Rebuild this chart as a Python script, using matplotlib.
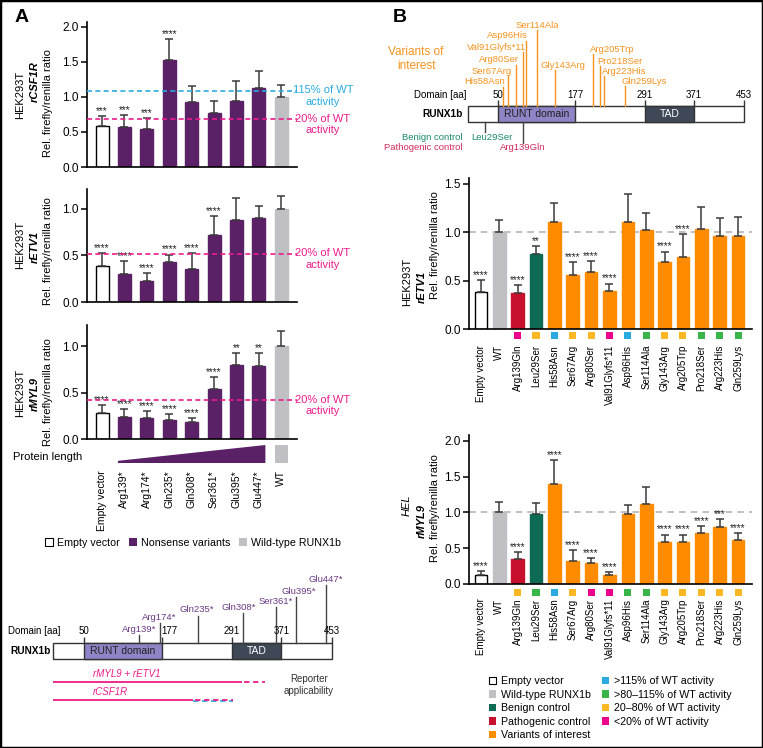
import numpy as np
import matplotlib.pyplot as plt
from matplotlib.patches import Rectangle, Polygon, Patch
import matplotlib.transforms as mtransforms

plt.rcParams['font.family'] = ['Liberation Sans', 'DejaVu Sans']
plt.rcParams['font.size'] = 8

W, H = 763, 748

# colours
purple = '#5a2167'
wt_gray = '#bfbfc4'
teal = '#0d6a55'
red = '#c8102e'
orange = '#ff8c00'
cls_col = {'blue': '#29abe2', 'green': '#39b54a', 'yellow': '#fbb824', 'pink': '#ec008c'}
line_pink = '#ec1c8c'
line_blue = '#29abe2'
runt_col = '#8e84c6'
tad_col = '#3e4857'
mut_purple = '#6b3a86'
var_orange = '#f7931e'

# ---------------- panel A data ----------------
a_cats = ['Empty vector', 'Arg139*', 'Arg174*', 'Gln235*', 'Gln308*',
          'Ser361*', 'Glu395*', 'Glu447*', 'WT']
a_csf1r = [0.58, 0.57, 0.54, 1.53, 0.93, 0.77, 0.94, 1.13, 1.00]
a_csf1r_sd = [0.15, 0.17, 0.16, 0.30, 0.22, 0.17, 0.29, 0.24, 0.17]
a_csf1r_sig = ['***', '***', '***', '****', '', '', '', '', '']
a_etv1 = [0.39, 0.30, 0.23, 0.43, 0.36, 0.72, 0.88, 0.90, 1.00]
a_etv1_sd = [0.14, 0.14, 0.08, 0.08, 0.17, 0.20, 0.24, 0.13, 0.14]
a_etv1_sig = ['****'] * 6 + ['', '', '']
a_myl9 = [0.28, 0.24, 0.23, 0.21, 0.18, 0.54, 0.80, 0.79, 1.00]
a_myl9_sd = [0.09, 0.08, 0.07, 0.06, 0.05, 0.13, 0.13, 0.14, 0.17]
a_myl9_sig = ['****'] * 6 + ['**', '**', '']
a_csf1r_lines = [1.09, 0.68]
a_etv1_lines = [0.52]
a_myl9_lines = [0.42]

# RUNX1b domains (aa)
dom_ticks = [50, 177, 291, 371, 453]
runt = (50, 177)
tad = (291, 371)
prot_len = 453
a_mut_names = ['Arg139*', 'Arg174*', 'Gln235*', 'Gln308*', 'Ser361*', 'Glu395*', 'Glu447*']
a_mut_pos = [139, 174, 235, 308, 362, 395, 444]
rep_names = ['rMYL9 + rETV1', 'rCSF1R']
rep_solid_end = [307, 227]
rep_dash_end = [344, 292]

# ---------------- panel B data ----------------
b_cats = ['Empty vector', 'WT', 'Arg139Gln', 'Leu29Ser', 'His58Asn', 'Ser67Arg',
          'Arg80Ser', 'Val91Glyfs*11', 'Asp96His', 'Ser114Ala', 'Gly143Arg',
          'Arg205Trp', 'Pro218Ser', 'Arg223His', 'Gln259Lys']
b_etv1 = [0.38, 1.00, 0.37, 0.77, 1.11, 0.56, 0.59, 0.39, 1.11, 1.02, 0.69, 0.74, 1.03, 0.96, 0.96]
b_etv1_sd = [0.13, 0.13, 0.08, 0.09, 0.19, 0.13, 0.11, 0.08, 0.28, 0.18, 0.11, 0.24, 0.23, 0.19, 0.20]
b_etv1_sig = ['****', '', '****', '**', '', '****', '****', '****', '', '', '****', '****', '', '', '']
b_etv1_cls = [None, None, 'pink', 'yellow', 'blue', 'yellow', 'yellow', 'pink', 'blue',
              'green', 'yellow', 'yellow', 'green', 'green', 'green']
b_myl9 = [0.13, 1.00, 0.35, 0.98, 1.40, 0.32, 0.30, 0.13, 0.98, 1.12, 0.58, 0.59, 0.71, 0.80, 0.62]
b_myl9_sd = [0.05, 0.14, 0.09, 0.15, 0.33, 0.16, 0.06, 0.04, 0.12, 0.23, 0.11, 0.10, 0.10, 0.11, 0.09]
b_myl9_sig = ['****', '', '****', '', '****', '****', '****', '****', '', '', '****', '****', '****', '***', '****']
b_myl9_cls = [None, None, 'yellow', 'green', 'blue', 'yellow', 'pink', 'pink', 'green',
              'green', 'yellow', 'yellow', 'yellow', 'yellow', 'yellow']

b_var_names = ['His58Asn', 'Ser67Arg', 'Arg80Ser', 'Val91Glyfs*11', 'Asp96His', 'Ser114Ala',
               'Gly143Arg', 'Arg205Trp', 'Pro218Ser', 'Arg223His', 'Gln259Lys']
b_var_pos = [58, 67, 80, 91, 96, 114, 143, 205, 218, 223, 259]
b_ctrl_names = ['Leu29Ser', 'Arg139Gln']
b_ctrl_pos = [29, 91]   # where the figure draws the stems

fig = plt.figure(figsize=(W / 100, H / 100), dpi=100)


def box(l, t, r, b):
    return [l / W, 1 - b / H, (r - l) / W, (b - t) / H]


def ftext(px, py, s, **kw):
    fig.text(px / W, 1 - py / H, s, **kw)


def style(ax, ymax, yticks, xlim):
    ax.set_xlim(*xlim)
    ax.set_ylim(0, ymax)
    ax.set_yticks(yticks)
    ax.set_yticklabels(['%.1f' % t for t in yticks])
    for s in ['top', 'right']:
        ax.spines[s].set_visible(False)
    for s in ['left', 'bottom']:
        ax.spines[s].set_linewidth(1.2)
    ax.tick_params(axis='y', direction='out', length=4, width=1.1, labelsize=8.5, pad=2)
    ax.tick_params(axis='x', length=0)
    ax.patch.set_alpha(0)


def bars(ax, vals, sd, sig, colors, width):
    x = np.arange(len(vals))
    edges = ['black' if c == 'white' else c for c in colors]
    ax.bar(x, vals, width=width, color=colors, edgecolor=edges, linewidth=1, zorder=2)
    ax.errorbar(x, vals, yerr=[np.zeros(len(vals)), sd], fmt='none', ecolor='#3a3a3a',
                elinewidth=1.1, capsize=3, capthick=1.1, zorder=3)
    for xi, v, s, t in zip(x, vals, sd, sig):
        if t:
            ax.text(xi, v + s, t, ha='center', va='bottom', fontsize=7.3, zorder=4,
                    color='#222222')


# ================= panel A charts =================
a_colors = ['white'] + [purple] * 7 + [wt_gray]
a_xlim = (-0.67, 8.7)
a_w = 0.58
axA1 = fig.add_axes(box(87, 22, 297, 167))
axA2 = fig.add_axes(box(87, 189, 297, 302))
axA3 = fig.add_axes(box(87, 325, 297, 439))
for ax, vals, sd, sig, ymax, yt in [
        (axA1, a_csf1r, a_csf1r_sd, a_csf1r_sig, 2.07, [0, 0.5, 1.0, 1.5, 2.0]),
        (axA2, a_etv1, a_etv1_sd, a_etv1_sig, 1.215, [0, 0.5, 1.0]),
        (axA3, a_myl9, a_myl9_sd, a_myl9_sig, 1.23, [0, 0.5, 1.0])]:
    bars(ax, vals, sd, sig, a_colors, a_w)
    style(ax, ymax, yt, a_xlim)
    ax.set_xticks([])


def thr(ax, yv, label, col):
    ax.axhline(yv, color=col, lw=1.2, dashes=(3, 2), zorder=5)
    ax.annotate(label, xy=(1.124, yv), xycoords=('axes fraction', 'data'),
                xytext=(0, 4), textcoords='offset points', ha='center', va='top',
                color=col, fontsize=8, annotation_clip=False)


thr(axA1, a_csf1r_lines[0], '115% of WT\nactivity', line_blue)
thr(axA1, a_csf1r_lines[1], '20% of WT\nactivity', line_pink)
thr(axA2, a_etv1_lines[0], '20% of WT\nactivity', line_pink)
thr(axA3, a_myl9_lines[0], '20% of WT\nactivity', line_pink)

# y labels panel A
ftext(20, 95, 'HEK293T', rotation=90, ha='center', va='center', fontsize=8)
ftext(35, 82, 'rCSF1R', rotation=90, ha='center', va='center', fontsize=8,
      fontweight='bold', fontstyle='italic')
ftext(48, 103, 'Rel. firefly/renilla ratio', rotation=90, ha='center', va='center', fontsize=8)
ftext(20, 245, 'HEK293T', rotation=90, ha='center', va='center', fontsize=8)
ftext(35, 247, 'rETV1', rotation=90, ha='center', va='center', fontsize=8,
      fontweight='bold', fontstyle='italic')
ftext(48, 251, 'Rel. firefly/renilla ratio', rotation=90, ha='center', va='center', fontsize=8)
ftext(20, 393, 'HEK293T', rotation=90, ha='center', va='center', fontsize=8)
ftext(35, 394, 'rMYL9', rotation=90, ha='center', va='center', fontsize=8,
      fontweight='bold', fontstyle='italic')
ftext(48, 392, 'Rel. firefly/renilla ratio', rotation=90, ha='center', va='center', fontsize=8)

# protein length wedge + category labels
axP = fig.add_axes(box(87, 445, 297, 463))
axP.set_xlim(*a_xlim)
axP.set_ylim(0, 1)
for s in axP.spines.values():
    s.set_visible(False)
axP.set_yticks([])
axP.patch.set_alpha(0)
axP.add_patch(Polygon([(1 - a_w / 2, 0), (7 + a_w / 2, 0), (7 + a_w / 2, 1), (1 - a_w / 2, 0.12)],
                      closed=True, facecolor=purple, edgecolor='none'))
axP.add_patch(Rectangle((8 - a_w / 2, 0), a_w, 1, facecolor=wt_gray, edgecolor='none'))
axP.set_xticks(np.arange(len(a_cats)))
axP.set_xticklabels(a_cats, rotation=90, fontsize=7.5)
axP.tick_params(axis='x', length=0, pad=5)
ftext(13, 457, 'Protein length', ha='left', va='center', fontsize=8)

fig.legend(handles=[Patch(facecolor='white', edgecolor='black', linewidth=0.8),
                    Patch(facecolor=purple), Patch(facecolor=wt_gray)],
           labels=['Empty vector', 'Nonsense variants', 'Wild-type RUNX1b'],
           loc='center', bbox_to_anchor=(193 / W, 1 - 543 / H), ncol=3, frameon=False,
           fontsize=7.7, handlelength=0.75, handleheight=0.75, handletextpad=0.4,
           columnspacing=0.8, borderpad=0, borderaxespad=0)

# ================= panel A domain diagram =================
sA = 0.615
oA = 53.2
axD = fig.add_axes(box(0, 565, 390, 720))
axD.set_xlim((0 - oA) / sA, (390 - oA) / sA)
axD.set_ylim(720, 565)
axD.axis('off')


def domain(ax, ytop, h):
    ax.add_patch(Rectangle((0, ytop), prot_len, h, facecolor='white', edgecolor='#333333', lw=1))
    ax.add_patch(Rectangle((runt[0], ytop), runt[1] - runt[0], h, facecolor=runt_col,
                           edgecolor='#333333', lw=1))
    ax.add_patch(Rectangle((tad[0], ytop), tad[1] - tad[0], h, facecolor=tad_col,
                           edgecolor='#333333', lw=1))
    ax.text(sum(runt) / 2, ytop + h / 2, 'RUNT domain', ha='center', va='center', fontsize=7.5,
            color='#222222')
    ax.text(sum(tad) / 2, ytop + h / 2, 'TAD', ha='center', va='center', fontsize=7.5,
            color='white')
    ax.vlines(dom_ticks, ytop - 6, ytop, color='#333333', lw=1)


domain(axD, 643, 16)
for t in dom_ticks:
    axD.text(t + (12 if t == 177 else 0), 631, str(t), ha='center', va='center', fontsize=7)
axD.text((8 - oA) / sA, 631, 'Domain [aa]', ha='left', va='center', fontsize=7)
axD.text((51 - oA) / sA, 651, 'RUNX1b', ha='right', va='center', fontsize=7.3, fontweight='bold')
a_lab_x = [139, 173, 234, 302, 361.5, 399, 443.5]
a_lab_y = [629, 617, 610, 607, 601, 591, 579]
for nm, p, lx, ly in zip(a_mut_names, a_mut_pos, a_lab_x, a_lab_y):
    axD.plot([p, p], [643, ly + 6], color='#444444', lw=1)
    axD.text(lx, ly, nm, ha='center', va='center', fontsize=6.8, color=mut_purple)
rep_y = [682, 700]
for nm, se, de, y in zip(rep_names, rep_solid_end, rep_dash_end, rep_y):
    axD.plot([0, se], [y, y], color=line_pink, lw=1.3, solid_capstyle='butt')
    if nm == 'rCSF1R':
        axD.plot([se, de], [y + 1.2, y + 1.2], color=line_blue, lw=1.3, dashes=(3, 2))
        axD.plot([se + 3, de], [y, y], color=line_pink, lw=1.3, dashes=(3, 2))
    else:
        axD.plot([se + 3, de], [y, y], color=line_pink, lw=1.3, dashes=(3, 2))
    axD.text((93 - oA) / sA, y - 8, nm, ha='left', va='center', fontsize=7,
             fontstyle='italic', color=line_pink)
axD.text((309 - oA) / sA, 685, 'Reporter\napplicability', ha='center', va='center',
         fontsize=7, color='#333333', linespacing=1.3)

# ================= panel B domain diagram =================
sB = 0.61
oB = 467.5
axE = fig.add_axes(box(390, 0, 763, 160))
axE.set_xlim((390 - oB) / sB, (763 - oB) / sB)
axE.set_ylim(160, 0)
axE.axis('off')
domain(axE, 106, 16)
for t in dom_ticks:
    axE.text(t, 95, str(t), ha='center', va='center', fontsize=7)
axE.text((466 - oB) / sB, 95, 'Domain [aa]', ha='right', va='center', fontsize=7)
axE.text((463 - oB) / sB, 114, 'RUNX1b', ha='right', va='center', fontsize=7.3, fontweight='bold')
b_lab_x = [28, 39, 52, 47.5, 66, 114, 156.5, 237, 249, 256.5, 290]
b_lab_y = [82, 71, 60, 47, 36, 25, 65, 49, 61, 71, 81]
for nm, p, lx, ly in zip(b_var_names, b_var_pos, b_lab_x, b_lab_y):
    axE.plot([p, p], [106, ly + 5], color=var_orange, lw=1)
    axE.text(lx, ly, nm, ha='center', va='center', fontsize=6.8, color=var_orange)
axE.text((416 - oB) / sB, 59, 'Variants of\ninterest', ha='center', va='center', fontsize=8.5,
         color=var_orange, linespacing=1.2)
ctrl_cols = ['#1b8a6d', '#d42a5b']
ctrl_y = [137, 148]
ctrl_lab_x = [40, 90]
for nm, p, lx, y, c, g in zip(b_ctrl_names, b_ctrl_pos, ctrl_lab_x, ctrl_y, ctrl_cols,
                              ['Benign control', 'Pathogenic control']):
    axE.plot([p, p], [122, y - 5], color='#444444', lw=1)
    axE.text(lx, y, nm, ha='center', va='center', fontsize=6.8, color=c)
    axE.text((463 - oB) / sB, y, g, ha='right', va='center', fontsize=6.8, color=c)

# ================= panel B charts =================
b_colors = ['white', wt_gray, red, teal] + [orange] * 11
b_xlim = (-0.65, 14.76)
b_w = 0.69
axB1 = fig.add_axes(box(469, 178, 752, 329))
axB2 = fig.add_axes(box(469, 435, 752, 584))
for ax, vals, sd, sig, cls, ymax, yt, sqy, pad in [
        (axB1, b_etv1, b_etv1_sd, b_etv1_sig, b_etv1_cls, 1.56, [0, 0.5, 1.0, 1.5], -0.046, 11.5),
        (axB2, b_myl9, b_myl9_sd, b_myl9_sig, b_myl9_cls, 2.08, [0, 0.5, 1.0, 1.5, 2.0], -0.054, 10.5)]:
    ax.axhline(1.0, color='#b5b5b5', lw=1.2, dashes=(4, 3), zorder=1)
    bars(ax, vals, sd, sig, b_colors, b_w)
    style(ax, ymax, yt, b_xlim)
    ax.set_xticks(np.arange(len(b_cats)))
    ax.set_xticklabels(b_cats, rotation=90, fontsize=7)
    ax.tick_params(axis='x', length=0, pad=pad)
    trans = mtransforms.blended_transform_factory(ax.transData, ax.transAxes)
    xs = [i for i, c in enumerate(cls) if c]
    ax.scatter(xs, [sqy] * len(xs), marker='s', s=26, c=[cls_col[cls[i]] for i in xs],
               transform=trans, clip_on=False, linewidths=0)

ftext(407, 282, 'HEK293T', rotation=90, ha='center', va='center', fontsize=8)
ftext(422, 287, 'rETV1', rotation=90, ha='center', va='center', fontsize=8,
      fontweight='bold', fontstyle='italic')
ftext(435, 245, 'Rel. firefly/renilla ratio', rotation=90, ha='center', va='center', fontsize=8)
ftext(407, 505, 'HEL', rotation=90, ha='center', va='center', fontsize=8, fontstyle='italic')
ftext(422, 521, 'rMYL9', rotation=90, ha='center', va='center', fontsize=8,
      fontweight='bold', fontstyle='italic')
ftext(435, 508, 'Rel. firefly/renilla ratio', rotation=90, ha='center', va='center', fontsize=8)

leg_kw = dict(loc='upper left', frameon=False, fontsize=7.7, handlelength=0.7, handleheight=0.7,
              handletextpad=0.4, labelspacing=0.33, borderpad=0, borderaxespad=0)
fig.legend(handles=[Patch(facecolor='white', edgecolor='black', linewidth=0.8),
                    Patch(facecolor=wt_gray), Patch(facecolor=teal), Patch(facecolor=red),
                    Patch(facecolor=orange)],
           labels=['Empty vector', 'Wild-type RUNX1b', 'Benign control', 'Pathogenic control',
                   'Variants of interest'],
           bbox_to_anchor=(489 / W, 1 - 676 / H), **leg_kw)
fig.legend(handles=[Patch(facecolor=cls_col[k]) for k in ['blue', 'green', 'yellow', 'pink']],
           labels=['>115% of WT activity', '>80\u2013115% of WT activity',
                   '20\u201380% of WT activity', '<20% of WT activity'],
           bbox_to_anchor=(602 / W, 1 - 676 / H), **leg_kw)

# panel letters + frame
ftext(22, 18, 'A', ha='center', va='center', fontsize=14, fontweight='bold')
ftext(400, 17, 'B', ha='center', va='center', fontsize=14, fontweight='bold')
fig.patches.append(Rectangle((0, 0), 1, 1, transform=fig.transFigure, fill=False,
                             edgecolor='black', lw=2.5))

fig.savefig('out.png', dpi=100)
